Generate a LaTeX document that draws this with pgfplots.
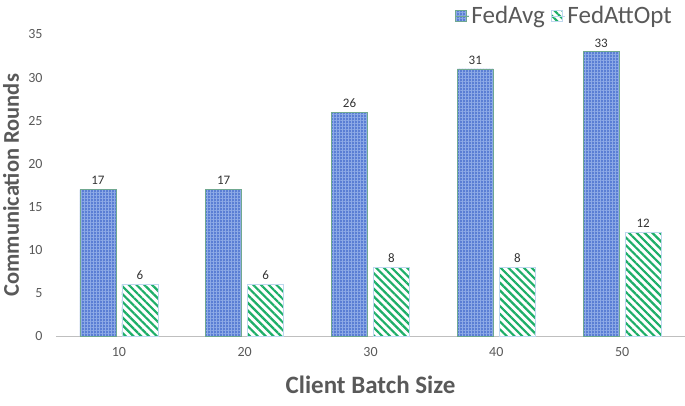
\documentclass[border=0pt]{standalone}
\usepackage{pgfplots}
\pgfplotsset{compat=1.18}
\usepackage{fontspec}
\setmainfont{Carlito}
\usetikzlibrary{patterns.meta}
\definecolor{avgfill}{HTML}{5A7ED4}
\definecolor{avggrid}{HTML}{8DAAE6}
\definecolor{avgedge}{HTML}{70A890}
\definecolor{attline}{HTML}{1DAE68}
\definecolor{attedge}{HTML}{BDD7EE}
\definecolor{txtgray}{HTML}{595959}
\definecolor{axgray}{HTML}{BFBFBF}
\begin{document}
\begin{tikzpicture}
\useasboundingbox (-56pt,-69pt) rectangle (629pt,336pt);
\begin{axis}[
  scale only axis,
  width=629pt, height=301.5pt,
  ybar,
  xmin=-0.5, xmax=4.5,
  ymin=0, ymax=35,
  ytick={0,5,...,35},
  xtick={0,1,2,3,4},
  xticklabels={10,20,30,40,50},
  major tick length=0pt,
  axis x line*=bottom,
  axis y line*=left,
  x axis line style={draw=axgray, line width=0.8pt},
  y axis line style={draw=none},
  tick label style={font=\fontsize{14}{16}\selectfont, text=txtgray},
  /pgf/number format/assume math mode=true,
  xticklabel style={yshift=-8pt},
  yticklabel style={xshift=-10pt},
  xlabel={\textbf{Client Batch Size}},
  ylabel={\textbf{Communication Rounds}},
  label style={font=\fontsize{25}{28}\selectfont, text=txtgray},
  xlabel style={at={(axis description cs:0.5,0)}, anchor=center, yshift=-49pt},
  ylabel style={font=\fontsize{22.5}{26}\selectfont, at={(axis description cs:0,0.5)}, anchor=center, yshift=45pt},
  nodes near coords,
  every node near coord/.append style={font=\fontsize{13}{15}\selectfont, text=black!80, /pgf/number format/assume math mode=true, yshift=1pt},
  legend style={at={(1,1)}, anchor=south east, yshift=5pt, xshift=-8pt, draw=none, fill=none,
    font=\fontsize{25}{27}\selectfont, text=txtgray, legend columns=2,
    /tikz/every even column/.append style={column sep=4pt}},
  legend image code/.code={\draw[#1] (0pt,-5.5pt) rectangle (11pt,5.5pt); \path (0pt,0pt) -- (14pt,0pt);},
]
\addplot[bar width=36pt, bar shift=-21pt, fill=avgfill, draw=avgedge, line width=0.6pt,
  postaction={pattern={Hatch[angle=0, distance=3pt, line width=0.6pt]}, pattern color=avggrid}]
  coordinates {(0,17) (1,17) (2,26) (3,31) (4,33)};
\addlegendentry{FedAvg}
\addplot[bar width=36pt, bar shift=21pt, draw=attedge, line width=0.6pt,
  pattern={Lines[angle=-45, distance=5.5pt, line width=2.2pt]}, pattern color=attline]
  coordinates {(0,6) (1,6) (2,8) (3,8) (4,12)};
\addlegendentry{FedAttOpt}
\end{axis}
\end{tikzpicture}
\end{document}
